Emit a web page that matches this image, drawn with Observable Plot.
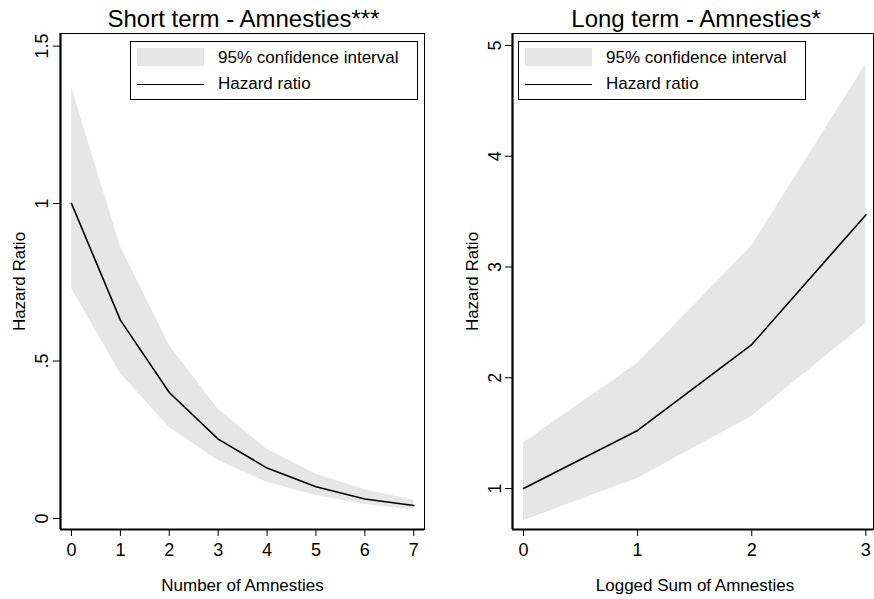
<!DOCTYPE html>
<html><head><meta charset="utf-8">
<script src="https://cdn.jsdelivr.net/npm/d3@7"></script>
<script src="https://cdn.jsdelivr.net/npm/@observablehq/plot@0.6"></script>
<style>
body{margin:0;background:#fff;font-family:"Liberation Sans",Arial,sans-serif}
#wrap{position:relative;width:874px;height:599px;overflow:hidden;background:#fff}
.panel{position:absolute;top:0}
.legend{position:absolute;top:41px;width:286px;height:57px;border:1px solid #000;background:#fff;font-size:17px;color:#000}
.legend .sw{position:absolute;left:6px;top:6px;width:67px;height:18px;background:#e6e6e6}
.legend .ln{position:absolute;left:6px;top:42px;width:67px;height:0;border-top:1.5px solid #000}
.legend .t{position:absolute;left:87px;line-height:20px;white-space:nowrap}
</style>
</head><body>
<div id="wrap"></div>
<script>
// Short term panel data
const shortX = [0, 1, 2, 3, 4, 5, 6, 7];
const shortHR = [1.00, 0.63, 0.40, 0.252, 0.16, 0.101, 0.062, 0.041];
const shortLo = [0.73, 0.46, 0.289, 0.184, 0.115, 0.073, 0.044, 0.028];
const shortHi = [1.37, 0.864, 0.55, 0.347, 0.22, 0.141, 0.091, 0.059];
const shortXTicks = [0, 1, 2, 3, 4, 5, 6, 7];
const shortXLabels = ["0", "1", "2", "3", "4", "5", "6", "7"];
const shortYTicks = [0, 0.5, 1, 1.5];
const shortYLabels = ["0", ".5", "1", "1.5"];

// Long term panel data
const longX = [0, 1, 2, 3];
const longHR = [1.0, 1.524, 2.30, 3.47];
const longLo = [0.71, 1.09, 1.65, 2.49];
const longHi = [1.41, 2.13, 3.19, 4.83];
const longXTicks = [0, 1, 2, 3];
const longXLabels = ["0", "1", "2", "3"];
const longYTicks = [1, 2, 3, 4, 5];
const longYLabels = ["1", "2", "3", "4", "5"];

const titles = ["Short term - Amnesties***", "Long term - Amnesties*"];
const xTitles = ["Number of Amnesties", "Logged Sum of Amnesties"];
const yTitle = "Hazard Ratio";
const legendLabels = ["95% confidence interval", "Hazard ratio"];

const FONT = '"Liberation Sans", Arial, sans-serif';

function panel(cfg) {
  const data = cfg.x.map((x, i) => ({x, hr: cfg.hr[i], lo: cfg.lo[i], hi: cfg.hi[i]}));
  return Plot.plot({
    width: 437, height: 599,
    marginLeft: cfg.ml, marginRight: cfg.mr, marginTop: 33, marginBottom: 70,
    x: {domain: cfg.xd},
    y: {domain: cfg.yd},
    style: {fontFamily: FONT, fontSize: "18px", color: "#000", background: "transparent", overflow: "visible"},
    marks: [
      Plot.areaY(data, {x: "x", y1: "lo", y2: "hi", fill: "#e6e6e6"}),
      Plot.lineY(data, {x: "x", y: "hr", stroke: "#000", strokeWidth: 1.6}),
      Plot.frame({stroke: "#000", strokeWidth: 1}),
      Plot.ruleX([cfg.xd[0]], {stroke: "#000", strokeWidth: 2.2}),
      Plot.ruleY([cfg.yd[0]], {stroke: "#000", strokeWidth: 2.2}),
      Plot.axisX(cfg.xt, {tickSize: 7, tickPadding: 7, label: null, fontSize: 18,
        tickFormat: d => cfg.xl[cfg.xt.indexOf(d)]}),
      Plot.axisY(cfg.yt, {tickSize: 7, tickRotate: -90, tickPadding: cfg.yPad, label: null, fontSize: 18,
        tickFormat: d => cfg.yl[cfg.yt.indexOf(d)]}),
      Plot.text([yTitle], {frameAnchor: "left", dx: cfg.yTitleDx, rotate: -90, fontSize: 17,
        textAnchor: "middle", lineAnchor: "middle"}),
      Plot.text([cfg.xTitle], {frameAnchor: "bottom", dy: 61, dx: cfg.xTitleDx, fontSize: 17,
        textAnchor: "middle", lineAnchor: "bottom"}),
      Plot.text([cfg.title], {frameAnchor: "top", dy: -23.5, dx: cfg.titleDx, fontSize: 24,
        textAnchor: "middle", lineAnchor: "top"})
    ]
  });
}

const wrap = document.getElementById("wrap");

const left = panel({
  x: shortX, hr: shortHR, lo: shortLo, hi: shortHi,
  xd: [-0.225, 7.22], yd: [-0.035, 1.54],
  xt: shortXTicks, xl: shortXLabels, yt: shortYTicks, yl: shortYLabels,
  ml: 60, mr: 13, yPad: 6, yTitleDx: -41,
  xTitle: xTitles[0], xTitleDx: 0, title: titles[0], titleDx: 1
});
left.classList.add("panel");
left.style.left = "0px";
wrap.appendChild(left);

const right = panel({
  x: longX, hr: longHR, lo: longLo, hi: longHi,
  xd: [-0.0964, 3.067], yd: [0.63, 5.108],
  xt: longXTicks, xl: longXLabels, yt: longYTicks, yl: longYLabels,
  ml: 75, mr: 1, yPad: 5, yTitleDx: -40,
  xTitle: xTitles[1], xTitleDx: 2, title: titles[1], titleDx: 3
});
right.classList.add("panel");
right.style.left = "437px";
wrap.appendChild(right);

function legend(leftPx) {
  const d = document.createElement("div");
  d.className = "legend";
  d.style.left = leftPx + "px";
  d.innerHTML = '<div class="sw"></div><div class="ln"></div>' +
    '<span class="t" style="top:6px">' + legendLabels[0] + '</span>' +
    '<span class="t" style="top:32px">' + legendLabels[1] + '</span>';
  wrap.appendChild(d);
}
legend(130);
legend(518);
</script>
</body></html>
